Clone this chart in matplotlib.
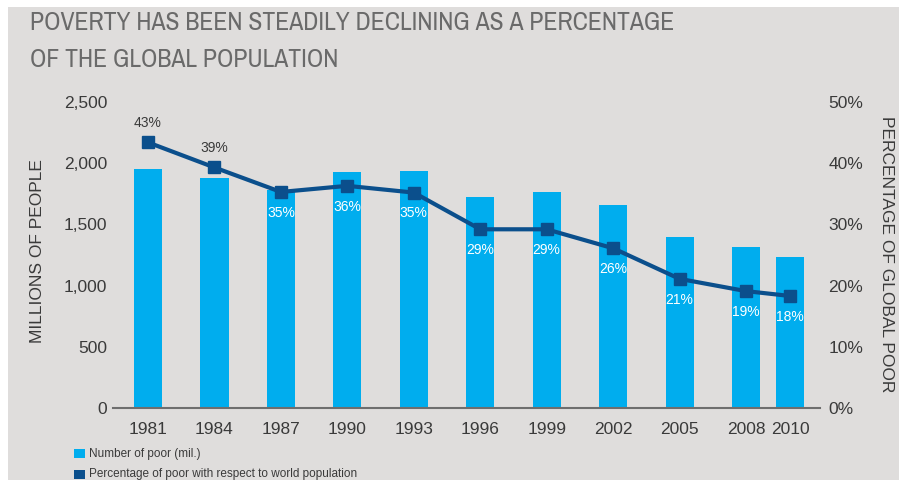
import matplotlib
matplotlib.use("Agg")
import matplotlib.pyplot as plt
from matplotlib.patches import Rectangle
from matplotlib import font_manager as fm

years = [1981, 1984, 1987, 1990, 1993, 1996, 1999, 2002, 2005, 2008, 2010]
poor_mil = [1950, 1875, 1780, 1925, 1935, 1722, 1762, 1655, 1400, 1312, 1230]
pct_poor = [43.4, 39.3, 35.3, 36.3, 35.2, 29.2, 29.2, 26.1, 21.1, 19.1, 18.3]
pct_labels = ["43%", "39%", "35%", "36%", "35%", "29%", "29%", "26%", "21%", "19%", "18%"]
left_ticks = [0, 500, 1000, 1500, 2000, 2500]
right_ticks = [0, 10, 20, 30, 40, 50]

title = "POVERTY HAS BEEN STEADILY DECLINING AS A PERCENTAGE\nOF THE GLOBAL POPULATION"

BG = "#dfdddc"
CYAN = "#00adee"
NAVY = "#0b4f8c"
TXT = "#3a3a3a"
FONT = ["Liberation Sans", "DejaVu Sans"]
plt.rcParams["font.family"] = FONT

# look for a condensed / narrow face for the title
cond = [f for f in fm.fontManager.ttflist
        if ("Narrow" in f.name or "Condensed" in f.name or
            "condensed" in str(f.stretch) or "Condensed" in f.fname)]
cond_names = sorted(set(f.name for f in cond))

fig = plt.figure(figsize=(8.99, 4.8), dpi=100, facecolor="white")
fig.patches.append(Rectangle((8 / 899, 0), 1, 1 - 7 / 480, transform=fig.transFigure,
                             facecolor=BG, edgecolor="none", zorder=-10))

ax = fig.add_axes([113 / 899, 1 - 408 / 480, (820 - 113) / 899, (408 - 102) / 480])
ax.set_facecolor("none")
ax.bar(years, poor_mil, width=1.27, color=CYAN, zorder=2)
ax.set_ylim(0, 2500)
ax.set_xlim(1979.42, 2011.34)
ax.set_yticks(left_ticks)
ax.set_yticklabels([f"{v:,}" for v in left_ticks])
ax.set_xticks(years)
ax.set_xticklabels([str(y) for y in years])
for s in ["top", "right", "left"]:
    ax.spines[s].set_visible(False)
ax.spines["bottom"].set_color("#6e6e6e")
ax.spines["bottom"].set_linewidth(1.5)
ax.tick_params(axis="both", length=0, labelsize=12.5, colors=TXT)
ax.tick_params(axis="y", pad=4)
ax.tick_params(axis="x", pad=10)

ax2 = ax.twinx()
ax2.set_ylim(0, 50)
ax2.plot(years, pct_poor, color=NAVY, lw=3, marker="s", ms=9, zorder=3)
ax2.set_yticks(right_ticks)
ax2.set_yticklabels([f"{v}%" for v in right_ticks])
for s in ["top", "right", "left", "bottom"]:
    ax2.spines[s].set_visible(False)
ax2.tick_params(axis="y", length=0, labelsize=12.5, colors=TXT, pad=6)

for i, (x, v, lab) in enumerate(zip(years, pct_poor, pct_labels)):
    if i < 2:
        ax2.annotate(lab, (x, v), xytext=(0, 9), textcoords="offset points",
                     ha="center", va="bottom", fontsize=10, color=TXT)
    else:
        ax2.annotate(lab, (x, v), xytext=(0, -10), textcoords="offset points",
                     ha="center", va="top", fontsize=10, color="white")

fig.text(38 / 899, 1 - 251 / 480, "MILLIONS OF PEOPLE", rotation=90, ha="center",
         va="center", fontsize=12.5, color=TXT)
fig.text(887 / 899, 1 - 254 / 480, "PERCENTAGE OF GLOBAL POOR", rotation=270, ha="center",
         va="center", fontsize=12.5, color=TXT)

if cond_names:
    tfam = [cond_names[0], "Liberation Sans", "DejaVu Sans"]
    tsize = 18.5
    tls = 1.75
else:
    tfam = ["Liberation Sans", "DejaVu Sans"]
    tsize = 15.5
    tls = 2.0
fig.text(30 / 899, 1 - 11 / 480, title, fontsize=tsize, color="#6a6a6a", va="top",
         linespacing=tls, family=tfam)

fig.patches.append(Rectangle((74 / 899, 1 - 458 / 480), 11 / 899, 9 / 480,
                             transform=fig.transFigure, facecolor=CYAN, edgecolor="none"))
fig.text(89 / 899, 1 - 453.5 / 480, "Number of poor (mil.)", fontsize=8.5, color=TXT, va="center")
fig.patches.append(Rectangle((74 / 899, 1 - 479 / 480), 11 / 899, 9 / 480,
                             transform=fig.transFigure, facecolor=NAVY, edgecolor="none"))
fig.text(89 / 899, 1 - 474 / 480, "Percentage of poor with respect to world population",
         fontsize=8.5, color=TXT, va="center")

fig.savefig("out.png", dpi=100, facecolor=fig.get_facecolor())
